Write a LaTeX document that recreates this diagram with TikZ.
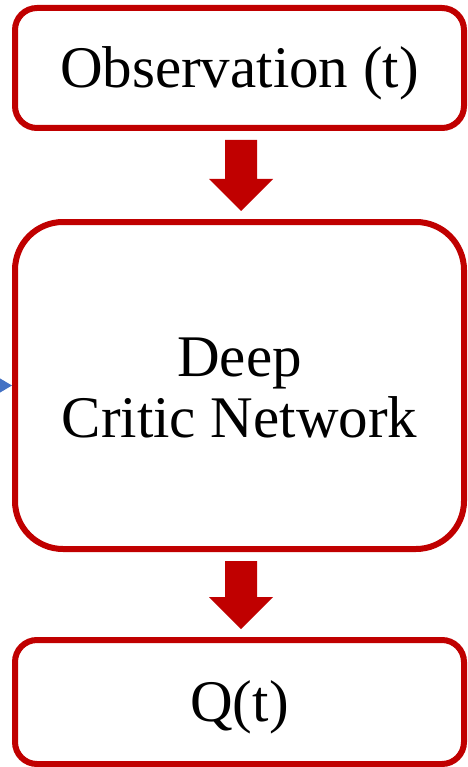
\documentclass[tikz,border=0pt]{standalone}
\usepackage{fontspec}
\setmainfont{Liberation Serif}
\usetikzlibrary{arrows.meta,calc}
\definecolor{boxred}{HTML}{C00000}
\definecolor{inblue}{HTML}{4472C4}
\newcommand{\lowertxt}[2]{\raisebox{-#1}[\height][\depth]{#2}}
\begin{document}
\begin{tikzpicture}[x=1pt,y=-1pt,
  box/.style={draw=boxred,line width=6pt,fill=white,rounded corners=#1,
    minimum width=449pt,inner sep=0pt,align=center,
    font=\fontsize{59}{62}\selectfont},
  bigarrow/.style={fill=boxred}]
\useasboundingbox (0,0) rectangle (467,767);
\node[box=22pt,minimum height=120pt] (obs) at (239.5,68) {\lowertxt{5pt}{Observation (t)}};
\node[box=48pt,minimum height=327pt] (critic) at (239.5,385.5) {\lowertxt{2pt}{Deep}\\[-1pt]\lowertxt{2pt}{Critic Network}};
\node[box=22pt,minimum height=124pt] (q) at (239.5,702) {\lowertxt{5pt}{Q(t)}};
% block arrows
\foreach \a/\b in {obs/critic,critic/q}{
  \fill[bigarrow] let \p1=(\a.south), \p2=(\b.north) in
    (241pt-16pt,\y1-9pt) -- (241pt+16pt,\y1-9pt) -- (241pt+16pt,\y2+8pt+32pt)
    -- (241pt+32pt,\y2+8pt+32pt) -- (241pt,\y2+8pt) -- (241pt-32pt,\y2+8pt+32pt)
    -- (241pt-16pt,\y2+8pt+32pt) -- cycle;
}
% incoming blue connector
\coordinate (in) at (-20,385.5);
\draw[inblue,line width=2pt,-{Triangle[length=14pt,width=16pt]}] (in) -- (in -| critic.west);
\end{tikzpicture}
\end{document}
